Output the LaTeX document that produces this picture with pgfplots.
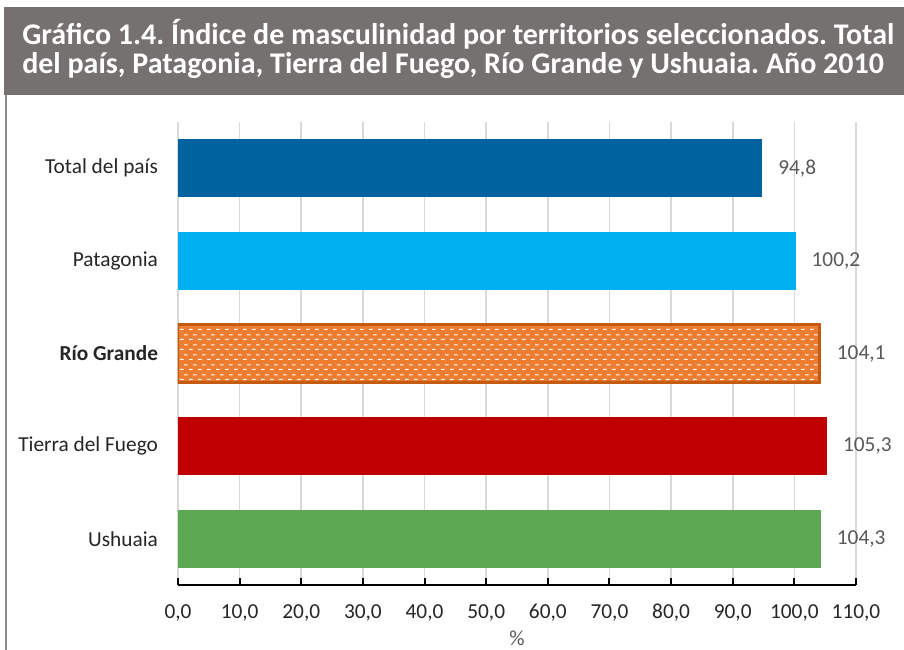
\documentclass[border=0pt]{standalone}
\usepackage{fontspec}
\setmainfont{Carlito}
\usepackage{pgfplots}
\pgfplotsset{compat=1.18}
\usetikzlibrary{patterns}
\frenchspacing

\definecolor{banner}{HTML}{767171}
\definecolor{framegray}{HTML}{8C8C8C}
\definecolor{gridgray}{HTML}{D9D9D9}
\definecolor{lblgray}{HTML}{595959}
\definecolor{txtdark}{HTML}{262626}
\definecolor{cTotal}{HTML}{00639F}
\definecolor{cPata}{HTML}{00B0F0}
\definecolor{cRioF}{HTML}{ED7D31}
\definecolor{cRioD}{HTML}{C55A11}
\definecolor{cTdf}{HTML}{C00000}
\definecolor{cUsh}{HTML}{5BA952}

% white dashes over the orange bar
\pgfdeclarepatternformonly{wdash}{\pgfpointorigin}{\pgfpoint{6.75pt}{7.5pt}}{\pgfpoint{6.75pt}{7.5pt}}{%
  \pgfpathrectangle{\pgfpoint{0pt}{0pt}}{\pgfpoint{3pt}{0.85pt}}%
  \pgfpathrectangle{\pgfpoint{3.375pt}{3.75pt}}{\pgfpoint{3pt}{0.85pt}}%
  \pgfusepath{fill}}

\pgfkeys{/pgf/number format/comma1/.style={/pgf/number format/fixed,
  /pgf/number format/fixed zerofill, /pgf/number format/precision=1,
  /pgf/number format/use comma, /pgf/number format/1000 sep={}}}

\begin{document}
\begin{tikzpicture}
\begin{scope}[x=0.75pt,y=0.75pt]
\useasboundingbox (0,0) rectangle (904,650);
\fill[white] (0,0) rectangle (904,650);
\fill[banner] (4,555) rectangle (904,643);
\draw[framegray, line width=1.5pt] (6,0) -- (6,555);
\node[anchor=base west, text=white, inner sep=0, font=\bfseries\fontsize{22.5pt}{26pt}\selectfont]
  at (22,605) {Gráfico 1.4. Índice de masculinidad por territorios seleccionados. Total};
\node[anchor=base west, text=white, inner sep=0, font=\bfseries\fontsize{22.5pt}{26pt}\selectfont]
  at (22,576) {del país, Patagonia, Tierra del Fuego, Río Grande y Ushuaia. Año 2010};
\end{scope}

\begin{axis}[
  at={(133.5pt,48.75pt)}, anchor=south west,
  scale only axis, width=508.5pt, height=347.25pt,
  xbar, bar width=43.5pt, bar shift=0pt,
  xmin=0, xmax=110, ymin=-0.5, ymax=4.5,
  xtick={0,10,...,110},
  ytick={0,1,2,3,4},
  yticklabels={Ushuaia, Tierra del Fuego, \textbf{Río Grande}, Patagonia, Total del país},
  axis x line=bottom, axis y line=left,
  x axis line style={-, black, line width=2.2pt},
  y axis line style={draw=none},
  ytick style={draw=none},
  xtick style={black, line width=1.5pt},
  tick align=inside, major tick length=5pt,
  xmajorgrids, grid style={gridgray, line width=1.2pt},
  /pgf/number format/assume math mode=true,
  xticklabel style={/pgf/number format/comma1, yshift=-11pt},
  tick label style={font=\fontsize{16pt}{19pt}\selectfont, text=txtdark},
  yticklabel style={xshift=-11.5pt},
  xlabel={\%},
  xlabel style={font=\fontsize{16pt}{19pt}\selectfont, text=lblgray, yshift=0pt},
  nodes near coords,
  nodes near coords style={font=\fontsize{16pt}{19pt}\selectfont, text=lblgray, anchor=west, xshift=8.5pt,
    /pgf/number format/comma1},
]
\addplot[fill=cTotal, draw=none] coordinates {(94.8,4)};
\addplot[fill=cPata, draw=none] coordinates {(100.2,3)};
\addplot[draw=cRioD, line width=2.2pt, preaction={fill=cRioF}, pattern=wdash, pattern color=white] coordinates {(104.1,2)};
\addplot[fill=cTdf, draw=none] coordinates {(105.3,1)};
\addplot[fill=cUsh, draw=none] coordinates {(104.3,0)};
\end{axis}
\end{tikzpicture}
\end{document}
